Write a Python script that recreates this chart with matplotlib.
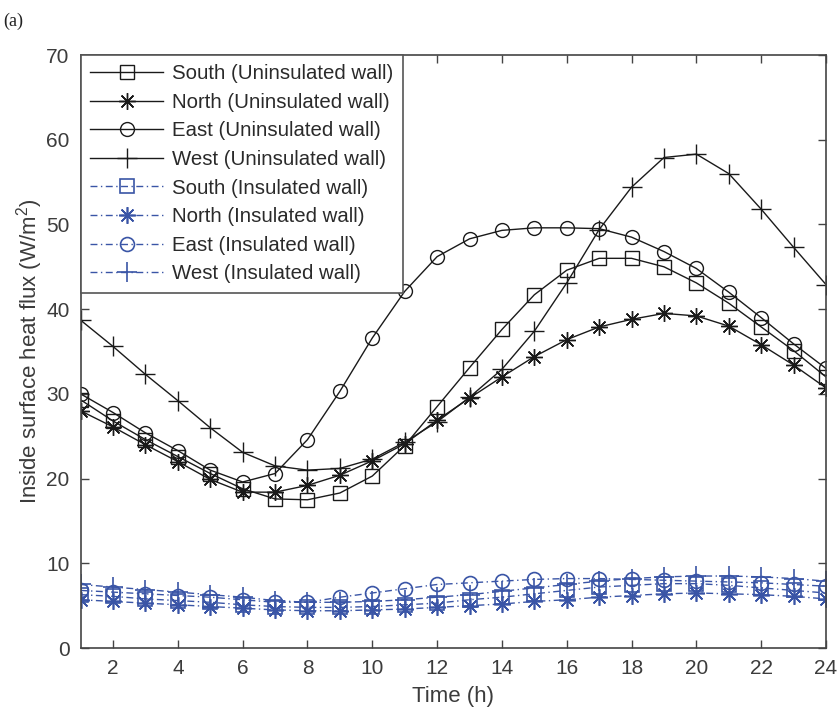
import matplotlib
matplotlib.use("Agg")
import matplotlib.pyplot as plt
import numpy as np

plt.rcParams['font.family'] = ['Liberation Sans', 'DejaVu Sans']
plt.rcParams['mathtext.fontset'] = 'custom'
plt.rcParams['mathtext.rm'] = 'Liberation Sans'

hours = np.arange(1, 25)

# uninsulated walls (W/m2)
south_un = [29.3, 26.8, 24.6, 22.6, 20.6, 18.8, 17.6, 17.5, 18.3, 20.3, 23.9, 28.5,
            33.1, 37.6, 41.7, 44.6, 46.0, 46.0, 45.0, 43.1, 40.7, 37.9, 35.1, 32.0]
north_un = [28.0, 26.1, 24.0, 22.0, 19.9, 18.4, 18.4, 19.2, 20.4, 22.1, 24.1, 26.9,
            29.5, 32.0, 34.4, 36.4, 37.9, 38.8, 39.5, 39.2, 38.0, 35.8, 33.4, 30.7]
east_un = [30.0, 27.8, 25.4, 23.3, 21.0, 19.6, 20.6, 24.6, 30.3, 36.6, 42.1, 46.2,
           48.3, 49.3, 49.6, 49.6, 49.5, 48.5, 46.8, 44.8, 42.0, 39.0, 35.9, 33.0]
west_un = [38.7, 35.6, 32.3, 29.2, 26.0, 23.1, 21.5, 21.0, 21.2, 22.3, 24.3, 26.7,
           29.6, 32.9, 37.4, 43.1, 49.4, 54.4, 57.9, 58.3, 56.0, 51.8, 47.3, 42.9]

# insulated walls (W/m2)
south_in = [6.3, 6.1, 5.8, 5.6, 5.4, 5.1, 4.9, 4.8, 4.8, 4.9, 5.1, 5.3,
            5.7, 6.0, 6.4, 6.8, 7.2, 7.4, 7.6, 7.6, 7.4, 7.1, 6.8, 6.5]
north_in = [5.7, 5.5, 5.3, 5.1, 4.9, 4.7, 4.5, 4.4, 4.4, 4.5, 4.6, 4.8,
            5.0, 5.2, 5.5, 5.7, 6.0, 6.2, 6.4, 6.5, 6.4, 6.3, 6.1, 5.8]
east_in = [6.8, 6.6, 6.4, 6.2, 6.0, 5.7, 5.4, 5.4, 6.0, 6.5, 7.0, 7.5,
           7.7, 7.9, 8.1, 8.2, 8.2, 8.1, 8.0, 7.9, 7.8, 7.7, 7.5, 7.3]
west_in = [7.5, 7.2, 6.9, 6.6, 6.3, 6.0, 5.6, 5.4, 5.4, 5.5, 5.7, 6.0,
           6.3, 6.7, 7.1, 7.5, 7.9, 8.2, 8.4, 8.5, 8.5, 8.4, 8.2, 7.9]

black = '#1a1a1a'
blue = '#3a55a6'
txt = '#3c3c3c'

fig = plt.figure(figsize=(8.38, 7.19), dpi=100)
ax = fig.add_axes([0.0962, 0.0987, 0.8895, 0.8248])

series = [
    (south_un, 's', 9.5, 'South (Uninsulated wall)'),
    (north_un, (8, 2, 0), 12, 'North (Uninsulated wall)'),
    (east_un, 'o', 10, 'East (Uninsulated wall)'),
    (west_un, '+', 15, 'West (Uninsulated wall)'),
]
for ys, mk, ms, lab in series:
    ax.plot(hours, ys, color=black, lw=1.0, marker=mk, ms=ms, mfc='none',
            mec=black, mew=1.0, label=lab)

series_in = [
    (south_in, 's', 9.5, 'South (Insulated wall)'),
    (north_in, (8, 2, 0), 12, 'North (Insulated wall)'),
    (east_in, 'o', 10, 'East (Insulated wall)'),
    (west_in, '+', 15, 'West (Insulated wall)'),
]
for ys, mk, ms, lab in series_in:
    ax.plot(hours, ys, color=blue, lw=1.0, ls=(0, (5, 2.5, 1, 2.5)), marker=mk,
            ms=ms, mfc='none', mec=blue, mew=1.2, label=lab)

ax.set_xlim(1, 24)
ax.set_ylim(0, 70)
ax.set_xticks(np.arange(2, 25, 2))
ax.set_yticks(np.arange(0, 71, 10))
ax.tick_params(direction='in', top=True, right=True, length=6, width=1,
               labelsize=15, colors='#444444', labelcolor=txt, pad=8)
for sp in ax.spines.values():
    sp.set_color('#444444')
    sp.set_linewidth(1.2)

ax.set_xlabel('Time (h)', fontsize=16, color=txt, labelpad=6)
ax.set_ylabel('Inside surface heat flux (W/m$^2$)', fontsize=16, color=txt, labelpad=1)

leg = ax.legend(loc='upper left', bbox_to_anchor=(0, 1), borderaxespad=0,
                fontsize=14.7, handlelength=3.6, handletextpad=0.45,
                labelspacing=0.47, borderpad=0.45, fancybox=False, framealpha=1,
                edgecolor='#555555')
leg.get_frame().set_linewidth(1.2)
for t in leg.get_texts():
    t.set_color('#2a2a2a')

fig.text(0.004, 0.982, '(a)', fontsize=13, family='Liberation Serif', va='top', color='#222222')

fig.savefig('out.png', dpi=100)
